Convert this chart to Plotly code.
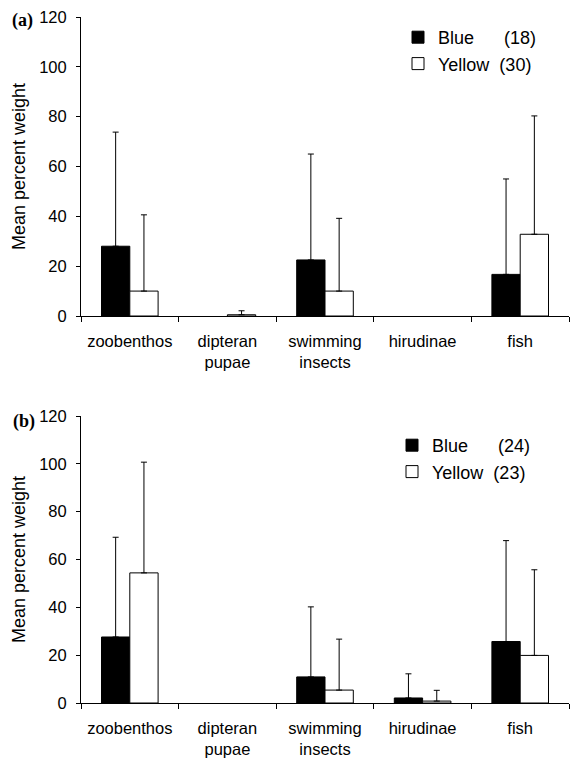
import plotly.graph_objects as go

categories = ["zoobenthos", "dipteran<br>pupae", "swimming<br>insects", "hirudinae", "fish"]

# Panel (a)
a_blue = [28.0, 0.0, 22.5, 0.0, 16.7]
a_blue_err = [45.8, 0.0, 42.5, 0.0, 38.3]
a_yellow = [10.0, 0.5, 10.0, 0.0, 32.8]
a_yellow_err = [30.6, 1.6, 29.2, 0.0, 47.5]

# Panel (b)
b_blue = [27.6, 0.0, 10.9, 2.1, 25.7]
b_blue_err = [41.7, 0.0, 29.3, 10.1, 42.2]
b_yellow = [54.4, 0.0, 5.4, 0.8, 19.9]
b_yellow_err = [46.3, 0.0, 21.3, 4.5, 35.8]

legend_a = ["Blue      (18)", "Yellow  (30)"]
legend_b = ["Blue      (24)", "Yellow  (23)"]
panel_labels = ["(a)", "(b)"]

W, H = 573, 762
ML, MR, MT, MB = 81, 4, 17, 59
PH = H - MT - MB
PW = W - ML - MR

fig = go.Figure()


def nz(vals):
    return [v if v > 0 else None for v in vals]


def add_pair(blue, blue_err, yellow, yellow_err, names, xa, ya, leg, grp):
    fig.add_trace(go.Bar(
        x=categories, y=nz(blue), name=names[0], xaxis=xa, yaxis=ya, legend=leg,
        legendgroup=grp + "b",
        marker=dict(color="black", line=dict(color="black", width=1)),
        error_y=dict(type="data", symmetric=False, array=nz(blue_err),
                     arrayminus=[0] * len(blue), color="black", thickness=1, width=3),
    ))
    fig.add_trace(go.Bar(
        x=categories, y=nz(yellow), name=names[1], xaxis=xa, yaxis=ya, legend=leg,
        legendgroup=grp + "y",
        marker=dict(color="white", line=dict(color="black", width=1)),
        error_y=dict(type="data", symmetric=False, array=nz(yellow_err),
                     arrayminus=[0] * len(yellow), color="black", thickness=1, width=3),
    ))


add_pair(a_blue, a_blue_err, a_yellow, a_yellow_err, legend_a, "x", "y", "legend", "a")
add_pair(b_blue, b_blue_err, b_yellow, b_yellow_err, legend_b, "x2", "y2", "legend2", "b")

font_family = "Liberation Sans, Arial, sans-serif"

xaxis_common = dict(
    type="category", categoryorder="array", categoryarray=categories,
    range=[-0.5, 4.5], showline=True, linecolor="black", linewidth=1,
    ticks="outside", tickson="boundaries", ticklen=5, tickcolor="black", tickwidth=1,
    showgrid=False, zeroline=False, fixedrange=True,
    tickfont=dict(family=font_family, size=16.5, color="black"),
    ticklabelstandoff=10,
)
yaxis_common = dict(
    range=[0, 120], dtick=20, tick0=0, showline=True, linecolor="black", linewidth=1,
    ticks="outside", ticklen=4, tickcolor="black", tickwidth=1,
    showgrid=False, zeroline=False,
    tickfont=dict(family=font_family, size=16.5, color="black"),
    ticklabelstandoff=6,
    title=dict(text="Mean percent weight", font=dict(family=font_family, size=18, color="black"),
               standoff=8),
)

dom_a = [(H - MB - 316) / PH, 1.0]
dom_b = [0.0, (H - MB - 416) / PH]

legend_common = dict(
    xanchor="left", yanchor="top",
    font=dict(family=font_family, size=18, color="black"),
    bgcolor="rgba(0,0,0,0)", traceorder="grouped", tracegroupgap=0,
)

fig.update_layout(
    width=W, height=H,
    margin=dict(l=ML, r=MR, t=MT, b=MB, autoexpand=False),
    paper_bgcolor="white", plot_bgcolor="white",
    barmode="group", bargap=0.42, bargroupgap=0,
    xaxis=dict(xaxis_common, domain=[0, 1], anchor="y"),
    yaxis=dict(yaxis_common, domain=dom_a, anchor="x"),
    xaxis2=dict(xaxis_common, domain=[0, 1], anchor="y2"),
    yaxis2=dict(yaxis_common, domain=dom_b, anchor="x2"),
    legend=dict(legend_common, x=(398 - ML) / PW, y=(H - MB - 19) / PH),
    legend2=dict(legend_common, x=(392 - ML) / PW, y=(H - MB - 427) / PH),
    annotations=[
        dict(text="<b>" + panel_labels[0] + "</b>", xref="paper", yref="paper",
             x=(22.5 - ML) / PW, y=(H - MB - 21) / PH,
             xanchor="center", yanchor="middle", showarrow=False,
             font=dict(family="Liberation Serif, Times New Roman, serif", size=18, color="black")),
        dict(text="<b>" + panel_labels[1] + "</b>", xref="paper", yref="paper",
             x=(24 - ML) / PW, y=(H - MB - 421) / PH,
             xanchor="center", yanchor="middle", showarrow=False,
             font=dict(family="Liberation Serif, Times New Roman, serif", size=18, color="black")),
    ],
)

fig.write_html("out.html")
